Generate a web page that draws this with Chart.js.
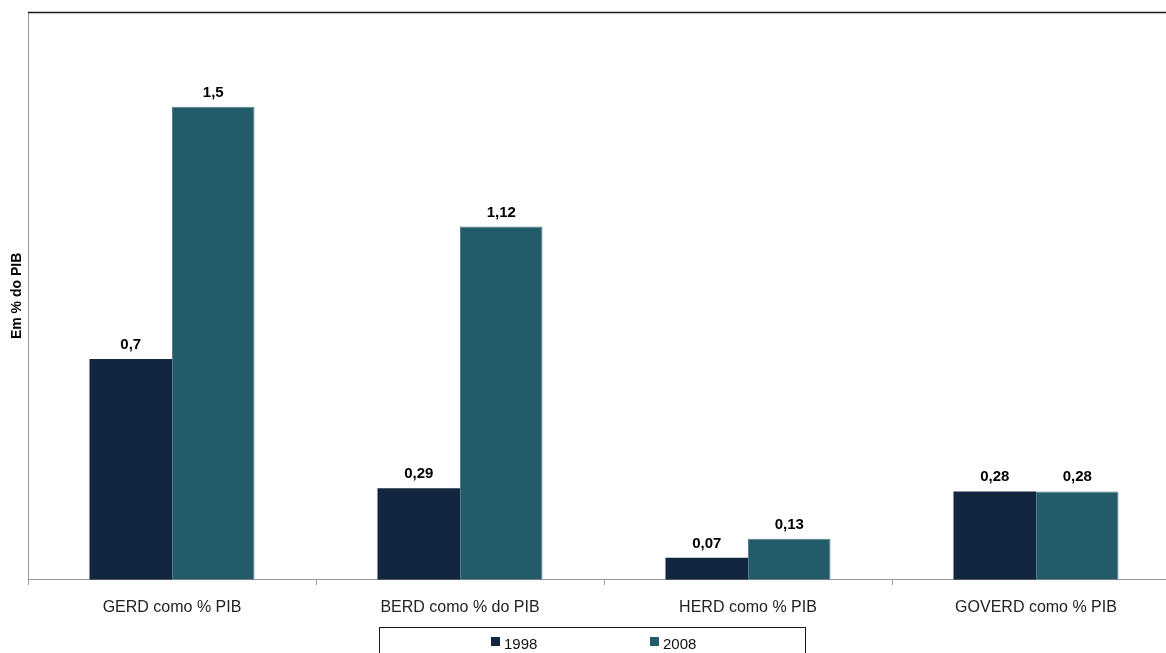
<!DOCTYPE html>
<html>
<head>
<meta charset="utf-8">
<script src="https://cdn.jsdelivr.net/npm/chart.js@4.4.1/dist/chart.umd.min.js"></script>
<style>
  html, body { margin: 0; padding: 0; background: #fff; overflow: hidden; }
  #wrap { width: 1166px; height: 653px; overflow: hidden; }
</style>
</head>
<body>
<div id="wrap">
  <canvas id="gastoID" width="1180" height="653"></canvas>
</div>
<script>
const categorias = ['GERD como % PIB', 'BERD como % do PIB', 'HERD como % PIB', 'GOVERD como % PIB'];
const anos = ['1998', '2008'];
const valores1998 = [0.7, 0.29, 0.07, 0.28];
const valores2008 = [1.5, 1.12, 0.13, 0.28];
const cores = ['#13263f', '#235b69'];

const fonte = 'Liberation Sans, Arial, sans-serif';

function virgula(v) {
  return String(v).replace('.', ',');
}

// rótulos de valor por cima de cada barra
const rotulos = {
  id: 'rotulos',
  afterDatasetsDraw(chart) {
    const ctx = chart.ctx;
    ctx.save();
    ctx.font = 'bold 15px ' + fonte;
    ctx.fillStyle = '#000';
    ctx.textAlign = 'center';
    ctx.textBaseline = 'alphabetic';
    chart.data.datasets.forEach((ds, i) => {
      chart.getDatasetMeta(i).data.forEach((bar, j) => {
        ctx.fillText(virgula(ds.data[j]), bar.x, bar.y - 10);
      });
    });
    ctx.restore();
  }
};

// linha de cima da área do gráfico e legenda com moldura
const moldura = {
  id: 'moldura',
  afterDraw(chart) {
    const ctx = chart.ctx;
    const area = chart.chartArea;
    ctx.save();
    ctx.strokeStyle = '#1a1a1a';
    ctx.lineWidth = 1.3;
    ctx.beginPath();
    ctx.moveTo(area.left, area.top + 0.5);
    ctx.lineTo(chart.width, area.top + 0.5);
    ctx.stroke();

    ctx.lineWidth = 1;
    ctx.strokeRect(379.5, 627.5, 426, 40);

    const posX = [491, 650];
    ctx.font = '15px ' + fonte;
    ctx.textBaseline = 'alphabetic';
    ctx.textAlign = 'left';
    chart.data.datasets.forEach((ds, i) => {
      ctx.fillStyle = ds.backgroundColor;
      ctx.fillRect(posX[i], 637, 9, 9);
      ctx.fillStyle = '#111';
      ctx.fillText(ds.label, posX[i] + 13, 649);
    });
    ctx.restore();
  }
};

const ctx = document.getElementById('gastoID').getContext('2d');

new Chart(ctx, {
  type: 'bar',
  data: {
    labels: categorias,
    datasets: [
      {
        label: anos[0],
        data: valores1998,
        backgroundColor: cores[0],
        borderColor: '#2a3d55',
        borderWidth: 0,
        categoryPercentage: 0.573,
        barPercentage: 1.0,
      },
      {
        label: anos[1],
        data: valores2008,
        backgroundColor: cores[1],
        borderColor: '#4f7f8c',
        borderWidth: 1,
        borderSkipped: 'bottom',
        categoryPercentage: 0.573,
        barPercentage: 1.0,
      },
    ],
  },
  options: {
    responsive: false,
    animation: false,
    layout: {
      padding: { top: 12, bottom: 23, left: 0, right: 0 },
    },
    scales: {
      x: {
        grid: {
          display: true,
          drawOnChartArea: false,
          drawTicks: true,
          tickLength: 5,
          color: '#999',
        },
        border: { display: true, color: '#999', width: 1 },
        ticks: {
          color: '#222',
          padding: 13,
          font: { family: fonte, size: 16 },
          maxRotation: 0,
        },
      },
      y: {
        min: 0,
        max: 1.8,
        grid: { display: false, drawTicks: false },
        border: { display: true, color: '#999', width: 1 },
        ticks: { display: false },
        title: {
          display: true,
          text: 'Em % do PIB',
          color: '#000',
          font: { family: fonte, size: 14, weight: 'bold' },
          padding: { top: 8.6, bottom: 2.6 },
        },
      },
    },
    plugins: {
      legend: { display: false },
      tooltip: { enabled: false },
    },
  },
  plugins: [rotulos, moldura],
});
</script>
</body>
</html>
